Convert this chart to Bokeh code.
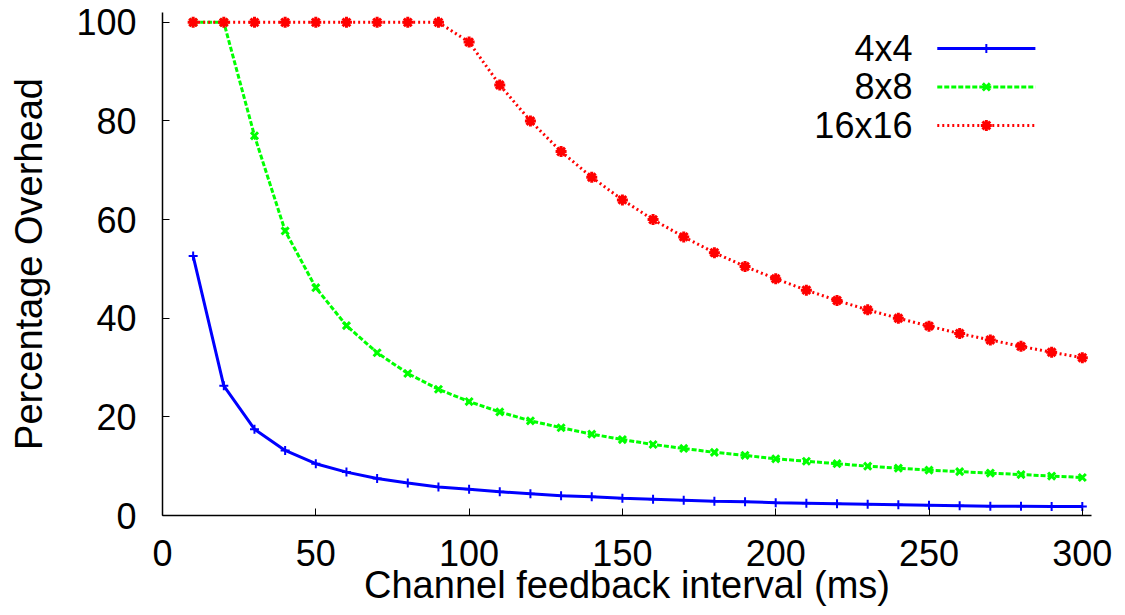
from bokeh.plotting import figure
from bokeh.models import Range1d, FixedTicker
from bokeh.core.properties import value
from bokeh.embed import file_html
from bokeh.resources import INLINE

# ---- data ----
intervals = [10, 20, 30, 40, 50, 60, 70, 80, 90, 100,
             110, 120, 130, 140, 150, 160, 170, 180, 190, 200,
             210, 220, 230, 240, 250, 260, 270, 280, 290, 300]
overhead_4x4 = [52.6, 26.3, 17.5, 13.2, 10.5, 8.8, 7.5, 6.6, 5.8, 5.3,
                4.8, 4.4, 4.0, 3.8, 3.5, 3.3, 3.1, 2.9, 2.8, 2.6,
                2.5, 2.4, 2.3, 2.2, 2.1, 2.0, 1.9, 1.9, 1.8, 1.8]
overhead_8x8 = [100, 100, 77.0, 57.7, 46.2, 38.5, 33.0, 28.8, 25.6, 23.1,
                21.0, 19.2, 17.8, 16.5, 15.4, 14.4, 13.6, 12.8, 12.2, 11.5,
                11.0, 10.5, 10.0, 9.6, 9.2, 8.9, 8.6, 8.3, 8.0, 7.7]
overhead_16x16 = [100, 100, 100, 100, 100, 100, 100, 100, 100, 96.0,
                  87.3, 80.0, 73.8, 68.6, 64.0, 60.0, 56.5, 53.3, 50.5, 48.0,
                  45.7, 43.6, 41.7, 40.0, 38.4, 36.9, 35.6, 34.3, 33.1, 32.0]
series_names = ["4x4", "8x8", "16x16"]
x_ticks = [0, 50, 100, 150, 200, 250, 300]
y_ticks = [0, 20, 40, 60, 80, 100]
x_title = "Channel feedback interval (ms)"
y_title = "Percentage Overhead"

FONT = "Liberation Sans"

p = figure(width=1120, height=615, output_backend="svg", toolbar_location=None,
           x_range=Range1d(0, 303), y_range=Range1d(0, 102),
           min_border_left=162, min_border_right=29,
           min_border_top=12, min_border_bottom=100)
p.outline_line_color = None
p.xgrid.visible = False
p.ygrid.visible = False
p.background_fill_color = "white"
p.border_fill_color = "white"

for ax in (p.xaxis[0], p.yaxis[0]):
    ax.axis_line_color = "black"
    ax.axis_line_width = 1.5
    ax.major_tick_in = 7
    ax.major_tick_out = 0
    ax.major_tick_line_color = "black"
    ax.major_tick_line_width = 1
    ax.minor_tick_line_color = None
    ax.major_label_text_font = FONT
    ax.major_label_text_font_size = "36px"
    ax.major_label_text_color = "black"
    ax.axis_label_text_font = FONT
    ax.axis_label_text_font_size = "38px"
    ax.axis_label_text_font_style = "normal"
    ax.axis_label_text_color = "black"

p.xaxis.ticker = FixedTicker(ticks=x_ticks)
p.yaxis.ticker = FixedTicker(ticks=y_ticks)
p.xaxis.axis_label = x_title
p.yaxis.axis_label = y_title
p.xaxis.major_label_standoff = 24
p.xaxis.axis_label_standoff = -5
p.yaxis.major_label_standoff = 26
p.yaxis.axis_label_standoff = 23

styles = [
    dict(data=overhead_4x4, color="#0000ff", dash="solid", marker="cross", size=9, mlw=2),
    dict(data=overhead_8x8, color="#00ff00", dash="5 2", marker="x", size=10, mlw=3),
    dict(data=overhead_16x16, color="#ff0000", dash="2 3", marker="asterisk", size=11, mlw=3),
]

# legend placement (data units)
leg_x0, leg_x1, leg_xm, leg_tx = 252.7, 284.7, 268.7, 244.6
leg_y = [94.7, 86.9, 79.1]

for name, st, ly in zip(series_names, styles, leg_y):
    p.line(intervals, st["data"], line_color=st["color"], line_width=3, line_dash=st["dash"])
    p.scatter(intervals, st["data"], marker=st["marker"], size=st["size"],
              line_color=st["color"], fill_color=st["color"], line_width=st["mlw"])
    p.line([leg_x0, leg_x1], [ly, ly], line_color=st["color"], line_width=3, line_dash=st["dash"])
    p.scatter([leg_xm], [ly], marker=st["marker"], size=st["size"],
              line_color=st["color"], fill_color=st["color"], line_width=st["mlw"])
    p.text([leg_tx], [ly], text=[name], text_align="right", text_baseline="middle",
           text_font=value(FONT), text_font_size=value("36px"), text_color="black")

open("out.html", "w").write(file_html(p, INLINE))
